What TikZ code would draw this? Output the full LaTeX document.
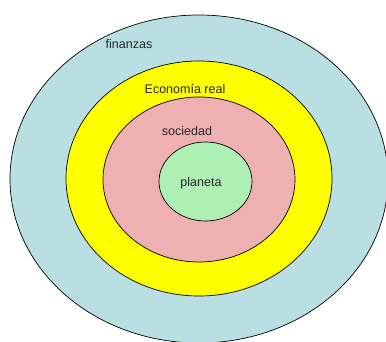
\documentclass[tikz,border=0pt]{standalone}
\usepackage{fontspec}
\setmainfont{Liberation Sans}
\definecolor{finc}{HTML}{BADFE3}
\definecolor{econc}{HTML}{FFFF00}
\definecolor{socc}{HTML}{EEB0B0}
\definecolor{planc}{HTML}{AEEFB4}
\begin{document}
\begin{tikzpicture}[x=1pt,y=-1pt,
  ring/.style={draw=black,line width=0.7pt},
  lbl/.style={font=\fontsize{12.5}{14}\selectfont,text=black!85,inner sep=0pt}]
\useasboundingbox (0,0) rectangle (386,342);
\begin{scope}
\clip (0,0) rectangle (386,342);
\filldraw[ring,fill=finc] (199,179) ellipse [x radius=189,y radius=164];
\filldraw[ring,fill=econc] (199,178.5) ellipse [x radius=133,y radius=117.5];
\filldraw[ring,fill=socc] (199,179.5) ellipse [x radius=96,y radius=82.5];
\filldraw[ring,fill=planc] (205.5,181.5) ellipse [x radius=46.5,y radius=39.5];
\end{scope}
\node[lbl] (fin) at (129,44) {finanzas};
\node[lbl] (eco) at (185,89) {Economía real};
\node[lbl] (soc) at (187,131) {sociedad};
\node[lbl] (pla) at (201,183) {planeta};
\end{tikzpicture}
\end{document}
